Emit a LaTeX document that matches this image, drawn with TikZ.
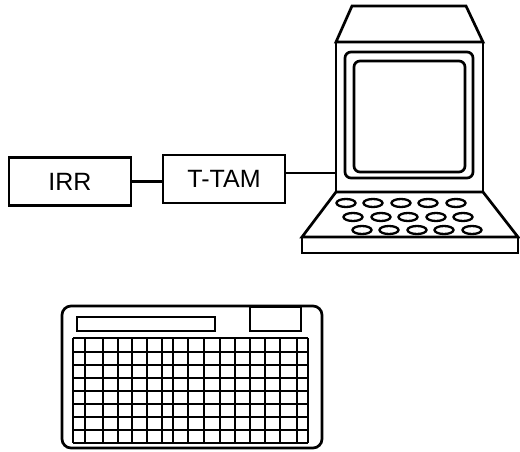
\documentclass[tikz,border=0pt]{standalone}
\usepackage{fontspec}
\setmainfont{Liberation Sans}
\begin{document}
\begin{tikzpicture}[x=1pt,y=-1pt,line width=2.7pt,line join=miter,
  unitbox/.style={draw,rectangle,minimum width=122pt,minimum height=48pt,
    inner sep=0pt,font=\fontsize{25}{27}\selectfont},
  keycap/.style={draw,line width=2.3pt},
  gridline/.style={line width=2.3pt}]
\useasboundingbox (0,0) rectangle (520,452);

% --- units on the left ---
\node[unitbox] (irr)  at (70,181.5) {IRR};
\node[unitbox] (ttam) at (224,179) {T-TAM};

% --- terminal: hood, monitor body, screen ---
\draw (352,6) -- (466,6) -- (483,42) -- (336,42) -- cycle;
\node[draw,rectangle,minimum width=147pt,minimum height=150pt,inner sep=0pt]
  (monitor) at (409.5,117) {};
\draw[rounded corners=6pt] (345,52) rectangle (473,178);
\draw[rounded corners=6pt] (354,61) rectangle (465,172);

% --- terminal: keyboard deck and base ---
\draw (336,192) -- (483,192) -- (518,237) -- (302,237) -- cycle;
\draw (302,237) rectangle (518,253);
\foreach \x in {346,373,401,428,456}
  \draw[keycap] (\x,203) ellipse [x radius=9.5, y radius=4];
\foreach \x in {353,381,408,436,463}
  \draw[keycap] (\x,217) ellipse [x radius=9.5, y radius=4];
\foreach \x in {362,389,417,444,472}
  \draw[keycap] (\x,230) ellipse [x radius=9.5, y radius=4];

% --- connectors ---
\draw (irr.east) -- (irr.east -| ttam.west);
\draw ([yshift=6pt]ttam.east) -- ([yshift=6pt]ttam.east -| monitor.west);

% --- keypad ---
\draw[rounded corners=9pt] (62,306) rectangle (322,448);
\draw (77,317) rectangle (215,331);
\draw (250,307) rectangle (301,331);
\foreach \x in {73,85,103,118,132,147,162,173,188,204,220,235,250,265,280,297,308}
  \draw[gridline] (\x,338) -- (\x,443);
\foreach \y in {338,352,365,378,391,404,417,430,443}
  \draw[gridline] (73,\y) -- (308,\y);
\end{tikzpicture}
\end{document}
